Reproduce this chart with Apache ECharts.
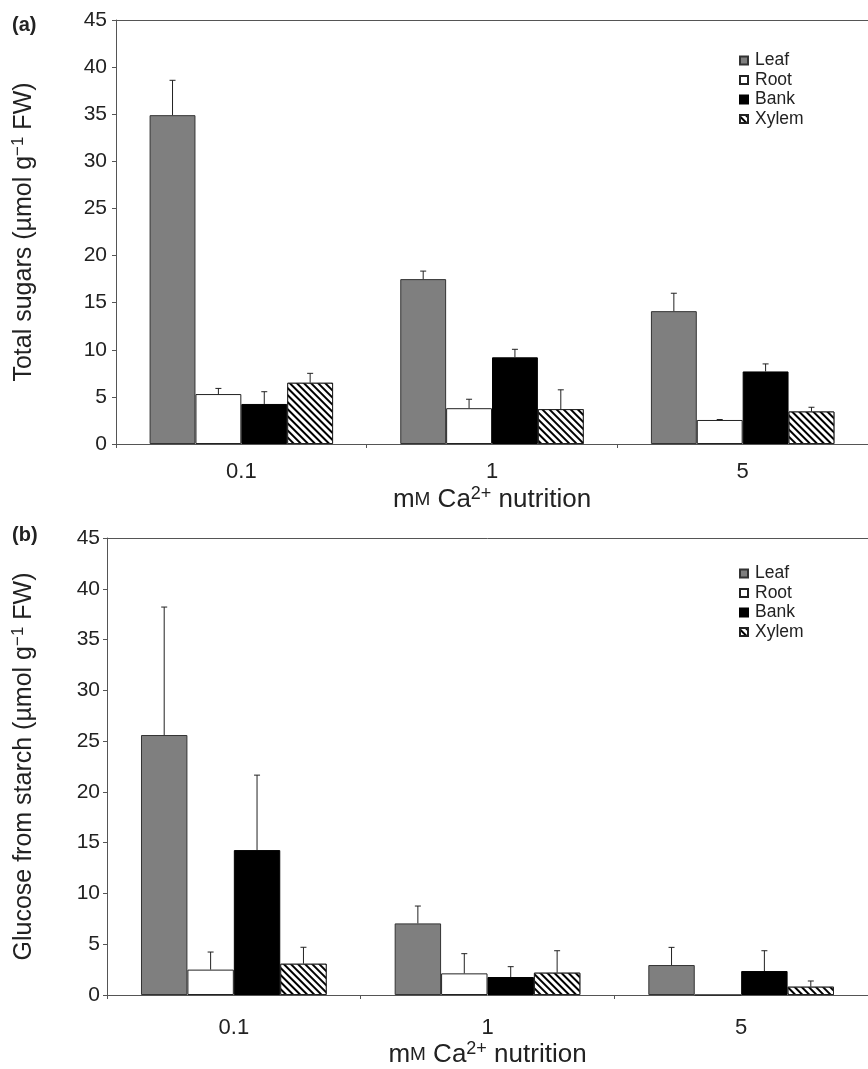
<!DOCTYPE html>
<html>
<head>
<meta charset="utf-8">
<script src="https://cdn.jsdelivr.net/npm/echarts@6/dist/echarts.min.js"></script>
<style>
html,body{margin:0;padding:0;background:#fff;}
#chart{width:868px;height:1069px;}
</style>
</head>
<body>
<div id="chart"></div>
<script>
const categories = ['0.1', '1', '5'];
const seriesNames = ['Leaf', 'Root', 'Bank', 'Xylem'];
const yTicks = [0, 5, 10, 15, 20, 25, 30, 35, 40, 45];

// Panel (a): Total sugars
const sugarLeaf  = [34.9, 17.5, 14.1];
const sugarRoot  = [5.3, 3.8, 2.55];
const sugarBank  = [4.25, 9.2, 7.7];
const sugarXylem = [6.5, 3.7, 3.45];
// upper ends of error bars
const sugarLeafErr  = [38.6, 18.35, 16.0];
const sugarRootErr  = [5.9, 4.75, 2.6];
const sugarBankErr  = [5.55, 10.05, 8.5];
const sugarXylemErr = [7.5, 5.75, 3.9];

// Panel (b): Glucose from starch
const starchLeaf  = [25.6, 7.05, 2.95];
const starchRoot  = [2.5, 2.13, 0];
const starchBank  = [14.27, 1.77, 2.36];
const starchXylem = [3.08, 2.2, 0.82];
const starchLeafErr  = [38.2, 8.76, 4.69];
const starchRootErr  = [4.23, 4.07, 0];
const starchBankErr  = [21.65, 2.79, 4.36];
const starchXylemErr = [4.7, 4.36, 1.38];

const BW = 0.183;
const FONT = 'Liberation Sans, Arial, sans-serif';
const AX = '#555';
const TXT = '#222';

const styles = [
  {color: '#7f7f7f', borderColor: '#333', borderWidth: 1},
  {color: '#ffffff', borderColor: '#222', borderWidth: 1},
  {color: '#000000', borderColor: '#000', borderWidth: 1},
  {color: '#ffffff', borderColor: '#222', borderWidth: 1,
   decal: {symbol: 'rect', symbolSize: 1, dashArrayX: [[1, 0]], dashArrayY: [2, 2.6],
           rotation: Math.PI / 4, color: '#000', backgroundColor: '#fff'}}
];

function barSeries(vals, idx, g) {
  return {
    name: seriesNames[idx], type: 'bar', xAxisIndex: g * 2, yAxisIndex: g,
    data: vals, barWidth: (BW * 100) + '%', barGap: '0%',
    itemStyle: styles[idx], emphasis: {disabled: true}, silent: true
  };
}

function errSeries(vals, errs, g) {
  const data = [];
  vals.forEach((arr, s) => arr.forEach((v, c) => {
    if (errs[s][c] > v) data.push([c, v, errs[s][c], s]);
  }));
  return {
    type: 'custom', xAxisIndex: g * 2, yAxisIndex: g, silent: true, z: 5,
    data: data,
    renderItem: function (params, api) {
      const c = api.value(0), v = api.value(1), e = api.value(2), s = api.value(3);
      const band = api.size([1, 0])[0];
      const bw = band * BW;
      const p0 = api.coord([c, v]);
      const p1 = api.coord([c, e]);
      const x = p0[0] + (s - 1.5) * bw;
      const st = {stroke: '#222', lineWidth: 1};
      return {type: 'group', children: [
        {type: 'line', shape: {x1: x, y1: p0[1], x2: x, y2: p1[1]}, style: st},
        {type: 'line', shape: {x1: x - 3, y1: p1[1], x2: x + 3, y2: p1[1]}, style: st}
      ]};
    }
  };
}

const xNameRich = {
  n: {fontSize: 26, fontFamily: FONT, color: TXT},
  sc: {fontSize: 19, fontFamily: FONT, color: TXT},
  sup: {fontSize: 18, fontFamily: FONT, color: TXT, padding: [0, 0, 11, 0]}
};
const xName = '{n|m}{sc|M}{n| Ca}{sup|2+}{n| nutrition}';

function xAxes(g) {
  return [
    {type: 'category', gridIndex: g, data: categories, position: 'bottom',
     axisLine: {lineStyle: {color: AX, width: 1}},
     axisTick: {show: true, length: 4, lineStyle: {color: AX}},
     axisLabel: {fontSize: 22, fontFamily: FONT, color: TXT, margin: g === 0 ? 17 : 22},
     name: xName, nameLocation: 'middle', nameGap: g === 0 ? 41 : 43,
     nameTextStyle: {rich: xNameRich}},
    {type: 'category', gridIndex: g, data: categories, position: 'top',
     axisLine: {lineStyle: {color: AX, width: 1}},
     axisTick: {show: false}, axisLabel: {show: false}}
  ];
}

function yAxis(g, nameMain) {
  return {
    type: 'value', gridIndex: g, min: 0, max: 45, interval: 5,
    axisLine: {show: true, lineStyle: {color: AX}},
    axisTick: {show: true, length: 4, lineStyle: {color: AX}},
    splitLine: {show: false},
    axisLabel: {fontSize: 21, fontFamily: FONT, color: TXT, margin: g === 0 ? 9 : 7},
    name: '{n|' + nameMain + ' (µmol g}{sup|−1}{n| FW)}',
    nameLocation: 'middle', nameGap: g === 0 ? 78 : 69,
    nameTextStyle: {rich: {
      n: {fontSize: 25, fontFamily: FONT, color: TXT},
      sup: {fontSize: 17, fontFamily: FONT, color: TXT, padding: [0, 0, 11, 0]}
    }}
  };
}

const legendBase = {
  orient: 'vertical', itemWidth: 8, itemHeight: 8, itemGap: 0.5,
  textStyle: {fontSize: 17.5, lineHeight: 19, fontFamily: FONT, color: TXT, padding: [0, 0, 0, 2]},
  data: seriesNames, selectedMode: false, icon: 'rect'
};

const chart = echarts.init(document.getElementById('chart'), null, {renderer: 'canvas'});
chart.setOption({
  animation: false,
  backgroundColor: '#fff',
  title: [
    {text: '(a)', left: 7, top: 10, textStyle: {fontSize: 20, fontWeight: 'bold', fontFamily: FONT, color: TXT}},
    {text: '(b)', left: 7, top: 520, textStyle: {fontSize: 20, fontWeight: 'bold', fontFamily: FONT, color: TXT}}
  ],
  legend: [
    Object.assign({left: 734, top: 46}, legendBase),
    Object.assign({left: 734, top: 559}, legendBase)
  ],
  grid: [
    {left: 116, top: 20, width: 760, height: 424},
    {left: 107, top: 538, width: 767, height: 457}
  ],
  xAxis: xAxes(0).concat(xAxes(1)),
  yAxis: [yAxis(0, 'Total sugars'), yAxis(1, 'Glucose from starch')],
  series: [
    barSeries(sugarLeaf, 0, 0), barSeries(sugarRoot, 1, 0), barSeries(sugarBank, 2, 0), barSeries(sugarXylem, 3, 0),
    errSeries([sugarLeaf, sugarRoot, sugarBank, sugarXylem], [sugarLeafErr, sugarRootErr, sugarBankErr, sugarXylemErr], 0),
    barSeries(starchLeaf, 0, 1), barSeries(starchRoot, 1, 1), barSeries(starchBank, 2, 1), barSeries(starchXylem, 3, 1),
    errSeries([starchLeaf, starchRoot, starchBank, starchXylem], [starchLeafErr, starchRootErr, starchBankErr, starchXylemErr], 1)
  ]
});
</script>
</body>
</html>
